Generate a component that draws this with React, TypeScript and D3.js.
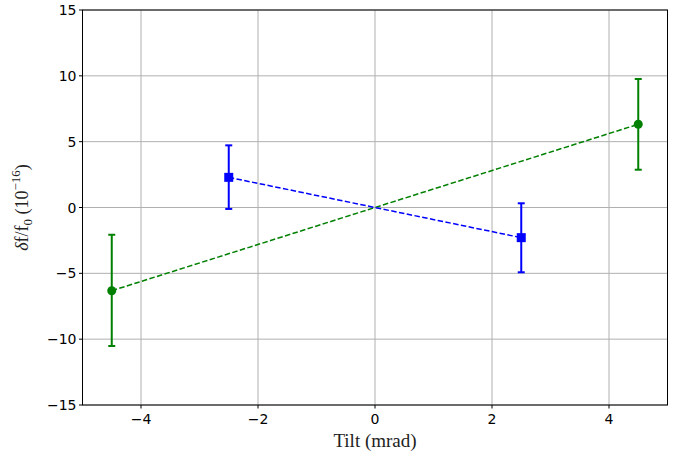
import React from "react";
import * as d3 from "d3";

const xTicks = [-4, -2, 0, 2, 4];
const yTicks = [-15, -10, -5, 0, 5, 10, 15];

const greenX = [-4.5, 4.5];
const greenY = [-6.32, 6.32];
const greenLo = [-10.52, 2.87];
const greenHi = [-2.07, 9.76];

const blueX = [-2.5, 2.5];
const blueY = [2.29, -2.29];
const blueLo = [-0.11, -4.92];
const blueHi = [4.72, 0.32];

const W = 676, H = 455;
const L = 82.5, R = 667.5, T = 10, B = 405;

export default function App() {
  const x = d3.scaleLinear().domain([-5, 5]).range([L, R]);
  const y = d3.scaleLinear().domain([-15, 15]).range([B, T]);
  const line = d3.line<number>().x((d) => x(d[0])).y((d) => y(d[1]));
  const tickFont = "DejaVu Sans, sans-serif";
  const serif = "'Liberation Serif', 'DejaVu Serif', serif";

  const series = [
    { xs: greenX, ys: greenY, lo: greenLo, hi: greenHi, color: "#008000", marker: "circle" },
    { xs: blueX, ys: blueY, lo: blueLo, hi: blueHi, color: "#0000ff", marker: "square" },
  ];

  return (
    <svg width={W} height={H} style={{ position: "absolute", left: 0, top: 0 }}>
      <rect x={0} y={0} width={W} height={H} fill="#fff" />
      {xTicks.map((t) => (
        <line key={"gx" + t} x1={x(t)} x2={x(t)} y1={T} y2={B} stroke="#b0b0b0" strokeWidth={1} />
      ))}
      {yTicks.map((t) => (
        <line key={"gy" + t} x1={L} x2={R} y1={y(t)} y2={y(t)} stroke="#b0b0b0" strokeWidth={1} />
      ))}
      {series.map((s, i) => (
        <g key={i}>
          <path
            d={line(s.xs.map((v, j) => [v, s.ys[j]]) as any) || ""}
            fill="none"
            stroke={s.color}
            strokeWidth={1.5}
            strokeDasharray="5.5,2.4"
          />
          {s.xs.map((v, j) => (
            <g key={j}>
              <line x1={x(v)} x2={x(v)} y1={y(s.lo[j])} y2={y(s.hi[j])} stroke={s.color} strokeWidth={2} />
              <line x1={x(v) - 3.5} x2={x(v) + 3.5} y1={y(s.lo[j])} y2={y(s.lo[j])} stroke={s.color} strokeWidth={2} />
              <line x1={x(v) - 3.5} x2={x(v) + 3.5} y1={y(s.hi[j])} y2={y(s.hi[j])} stroke={s.color} strokeWidth={2} />
              {s.marker === "circle" ? (
                <circle cx={x(v)} cy={y(s.ys[j])} r={4.5} fill={s.color} />
              ) : (
                <rect x={x(v) - 4.5} y={y(s.ys[j]) - 4.5} width={9} height={9} fill={s.color} />
              )}
            </g>
          ))}
        </g>
      ))}
      <rect x={L} y={T} width={R - L} height={B - T} fill="none" stroke="#000" strokeWidth={1} />
      {xTicks.map((t) => (
        <g key={"tx" + t}>
          <line x1={x(t)} x2={x(t)} y1={B} y2={B + 3.5} stroke="#000" />
          <text x={x(t)} y={B + 19} textAnchor="middle" fontSize={14} fontFamily={tickFont}>
            {t < 0 ? "\u2212" + Math.abs(t) : String(t)}
          </text>
        </g>
      ))}
      {yTicks.map((t) => (
        <g key={"ty" + t}>
          <line x1={L - 3.5} x2={L} y1={y(t)} y2={y(t)} stroke="#000" />
          <text x={L - 6} y={y(t) + 5} textAnchor="end" fontSize={14} fontFamily={tickFont}>
            {t < 0 ? "\u2212" + Math.abs(t) : String(t)}
          </text>
        </g>
      ))}
      <text x={(L + R) / 2} y={447} textAnchor="middle" fontSize={19} fontFamily={serif} fill="#222">
        Tilt (mrad)
      </text>
      <text
        transform={`translate(28,${(T + B) / 2}) rotate(-90)`}
        textAnchor="middle"
        fontSize={18}
        fontFamily={serif}
        fill="#222"
      >
        <tspan fontStyle="italic">δ</tspan>f/f
        <tspan dy={4} fontSize={13}>0</tspan>
        <tspan dy={-4}> (10</tspan>
        <tspan dy={-8} fontSize={13}>−16</tspan>
        <tspan dy={8}>)</tspan>
      </text>
    </svg>
  );
}
